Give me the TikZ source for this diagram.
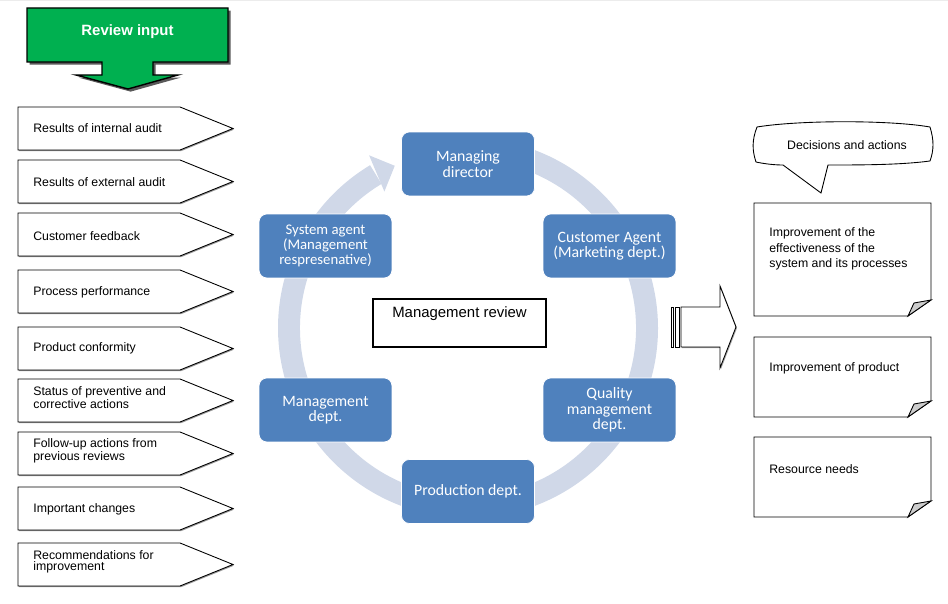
\documentclass[tikz,border=0pt]{standalone}
\usepackage{fontspec}
\setmainfont{Liberation Sans}
\newfontfamily\calibri{Carlito}
\usetikzlibrary{shadows}
\definecolor{boxblue}{RGB}{79,129,189}
\definecolor{ringblue}{RGB}{208,216,232}
\definecolor{inputgreen}{RGB}{0,176,80}
\tikzset{
  unit/.style={draw=white, fill=boxblue, rounded corners=4.5pt, minimum width=2.66cm, minimum height=1.28cm,
    text=white, align=center, inner sep=1pt, font=\calibri\fontsize{9}{8.8}\selectfont},
  inbox/.style={draw=black, fill=white, line width=0.5pt,
    drop shadow={shadow xshift=0.5pt, shadow yshift=-0.7pt, fill=gray, opacity=0.8}},
  intext/.style={anchor=west, align=left, inner sep=0pt, font=\fontsize{7}{6.4}\selectfont},
  note/.style={draw=black, fill=white, line width=0.5pt},
  notetext/.style={anchor=west, align=left, inner sep=0pt, font=\fontsize{7}{9}\selectfont},
}
\begin{document}
\begin{tikzpicture}[x=0.02cm, y=-0.02cm]
\useasboundingbox (0,0) rectangle (948,604);
\fill[gray!15] (0,0) rectangle (948,1.5);
% review input
\draw[fill=inputgreen, line width=0.8pt, drop shadow={shadow xshift=1.5pt, shadow yshift=-1.5pt, fill=black!65, opacity=1}]
  (27,8)--(228,8)--(228,62)--(153,62)--(153,75)--(178,75)--(128,89)--(76,75)--(102,75)--(102,62)--(27,62)--cycle;
\node[text=white, font=\bfseries\fontsize{8.5}{10}\selectfont] (revin) at (127.5,32) {Review input};
\draw[inbox] (18,107)--(180,107)--(233,128.5)--(180,150)--(18,150)--cycle;
\node[intext] (in1) at (33,128.5) {Results of internal audit};
\draw[inbox] (18,160)--(180,160)--(233,181.5)--(180,203)--(18,203)--cycle;
\node[intext] (in2) at (33,182) {Results of external audit};
\draw[inbox] (18,213)--(180,213)--(233,234.5)--(180,256)--(18,256)--cycle;
\node[intext] (in3) at (33,236) {Customer feedback};
\draw[inbox] (18,270)--(180,270)--(233,291.5)--(180,313)--(18,313)--cycle;
\node[intext] (in4) at (33,292.5) {Process performance};
\draw[inbox] (18,327)--(180,327)--(233,348.5)--(180,370)--(18,370)--cycle;
\node[intext] (in5) at (33,348) {Product conformity};
\draw[inbox] (18,379)--(180,379)--(233,400.5)--(180,422)--(18,422)--cycle;
\node[intext] (in6) at (33,397.5) {Status of preventive and\\corrective actions};
\draw[inbox] (18,432)--(180,432)--(233,453.5)--(180,475)--(18,475)--cycle;
\node[intext] (in7) at (33,451) {Follow-up actions from\\previous reviews};
\draw[inbox] (18,487)--(180,487)--(233,508.5)--(180,530)--(18,530)--cycle;
\node[intext] (in8) at (33,509) {Important changes};
\draw[inbox] (18,543)--(180,543)--(233,564.5)--(180,586)--(18,586)--cycle;
\node[intext] (in9) at (33,561.5) {Recommendations for\\improvement};
% review cycle
\coordinate (c) at (468,328);
\draw[ringblue, line width=12.5pt] (c) ++(-100:179) arc[start angle=-100, end angle=239, radius=179];
\fill[ringblue] ([shift={(-121.5:160)}]c) -- ([shift={(-119.8:199)}]c) -- ([shift={(-114.3:178)}]c) -- cycle;
\node[unit] (md) at (468,164) {Managing\\director};
\node[unit] (cust) at (609.5,246) {Customer Agent\\(Marketing dept.)};
\node[unit] (qual) at (609.5,410) {Quality\\management\\dept.};
\node[unit] (prod) at (468,491.5) {Production dept.};
\node[unit] (mgmt) at (325.5,410) {Management\\dept.};
\node[unit, font=\calibri\fontsize{8.4}{8.5}\selectfont] (sys) at (325.5,246) {System agent\\(Management\\respresenative)};
\node[draw, line width=0.6pt, minimum width=3.46cm, minimum height=0.96cm] (mr) at (459.5,323) {};
\node[font=\fontsize{8.5}{10}\selectfont] (mrtext) at (459.5,314) {Management review};
% decisions and actions
\draw[note, drop shadow={shadow xshift=0.6pt, shadow yshift=-0.6pt, fill=gray, opacity=0.7}]
  (681,307) -- (720,307) -- (720,286) -- (736,327) -- (720,368) -- (720,347) -- (681,347) -- cycle;
\draw[note] (671,307) rectangle (673,347);
\draw[note] (675,307) rectangle (679,347);
\draw[note] (757,127) .. controls (800,120) and (890,120) .. (930,127)
  .. controls (934,140) and (934,150) .. (930,161)
  .. controls (900,165) and (860,165) .. (828,165)
  -- (821,193) -- (783,165)
  .. controls (775,165) and (765,164) .. (756,162)
  .. controls (752,150) and (752,140) .. (757,127) -- cycle;
\node[font=\fontsize{7}{9}\selectfont] (dec) at (847,145) {Decisions and actions};
\draw[note] (754,203) -- (931,203) -- (931,300) -- (908,316) -- (754,316) -- cycle;
\draw[fill=gray!40, line width=0.5pt] (931,300) -- (908,316) -- (914,303) -- cycle;
\node[notetext] (out1) at (769,249) {Improvement of the\\effectiveness of the\\system and its processes};
\draw[note] (754,337) -- (931,337) -- (931,401) -- (908,417) -- (754,417) -- cycle;
\draw[fill=gray!40, line width=0.5pt] (931,401) -- (908,417) -- (914,404) -- cycle;
\node[notetext] (out2) at (769,368) {Improvement of product};
\draw[note] (754,437) -- (931,437) -- (931,501) -- (908,517) -- (754,517) -- cycle;
\draw[fill=gray!40, line width=0.5pt] (931,501) -- (908,517) -- (914,504) -- cycle;
\node[notetext] (out3) at (769,469) {Resource needs};
\end{tikzpicture}
\end{document}
